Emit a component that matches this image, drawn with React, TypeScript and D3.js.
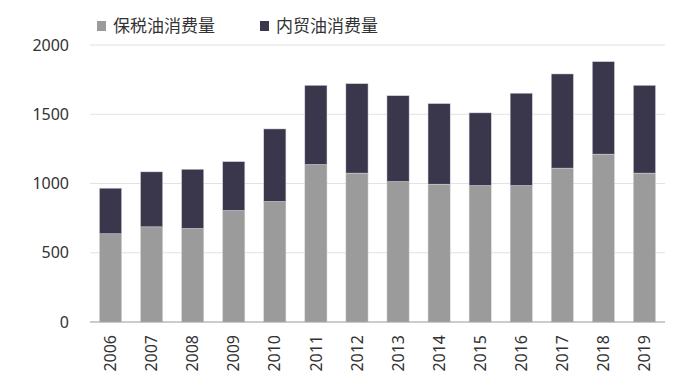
import React, { useRef, useEffect } from 'react';
import * as d3 from 'd3';

const years = ['2006', '2007', '2008', '2009', '2010', '2011', '2012', '2013', '2014', '2015', '2016', '2017', '2018', '2019'];
const bondedOil = [637, 687, 675, 805, 870, 1137, 1075, 1014, 995, 985, 985, 1111, 1212, 1075];
const domesticOil = [329, 397, 428, 353, 524, 572, 646, 620, 582, 525, 667, 680, 668, 634];
const seriesNames = ['保税油消费量', '内贸油消费量'];
const yTicks = [0, 500, 1000, 1500, 2000];

const colors = ['#9a9b9a', '#3a364b'];
const font = '"Noto Sans", "Noto Sans CJK SC", sans-serif';

const App = () => {
  const svgRef = useRef<SVGSVGElement>(null);
  const width = 694;
  const height = 392;

  useEffect(() => {
    const svg = d3.select(svgRef.current);
    svg.selectAll('*').remove();

    const margin = { left: 90, right: 29, top: 45, bottom: 70 };
    const x = d3.scaleBand().domain(years).range([margin.left, width - margin.right]).paddingInner(0.46).paddingOuter(0.23);
    const y = d3.scaleLinear().domain([0, 2000]).range([height - margin.bottom, margin.top]);

    const table = years.map((yr, i) => ({ year: yr, a: bondedOil[i], b: domesticOil[i] }));
    const stacked = d3.stack<any>().keys(['a', 'b'])(table);

    // grid
    svg.append('g')
      .selectAll('line')
      .data(yTicks.filter(t => t > 0))
      .join('line')
      .attr('x1', margin.left)
      .attr('x2', width - margin.right)
      .attr('y1', d => y(d))
      .attr('y2', d => y(d))
      .attr('stroke', '#e2e2e2')
      .attr('stroke-width', 1.2);

    svg.append('g')
      .selectAll('g')
      .data(stacked)
      .join('g')
      .attr('fill', (_, i) => colors[i])
      .selectAll('rect')
      .data(d => d)
      .join('rect')
      .attr('x', d => x(d.data.year)!)
      .attr('width', x.bandwidth())
      .attr('y', d => y(d[1]))
      .attr('height', d => y(d[0]) - y(d[1]))
      .attr('stroke', '#d8d8de')
      .attr('stroke-width', 0.5);

    // baseline
    svg.append('line')
      .attr('x1', margin.left)
      .attr('x2', width - margin.right)
      .attr('y1', y(0))
      .attr('y2', y(0))
      .attr('stroke', '#9a9a9a')
      .attr('stroke-width', 1.2);

    svg.append('g')
      .selectAll('text')
      .data(yTicks)
      .join('text')
      .attr('x', 69)
      .attr('y', d => y(d))
      .attr('dy', '0.35em')
      .attr('text-anchor', 'end')
      .attr('font-family', font)
      .attr('font-size', 16)
      .attr('fill', '#333')
      .text(d => d);

    svg.append('g')
      .selectAll('text')
      .data(years)
      .join('text')
      .attr('transform', d => `translate(${x(d)! + x.bandwidth() / 2},335) rotate(-90)`)
      .attr('dy', '0.35em')
      .attr('text-anchor', 'end')
      .attr('font-family', font)
      .attr('font-size', 16)
      .attr('fill', '#333')
      .text(d => d);

    const legendX = [97, 260];
    const legend = svg.append('g')
      .selectAll('g')
      .data(seriesNames)
      .join('g')
      .attr('transform', (_, i) => `translate(${legendX[i]},21)`);
    legend.append('rect')
      .attr('width', 9)
      .attr('height', 10)
      .attr('fill', (_, i) => colors[i]);
    legend.append('text')
      .attr('x', 16)
      .attr('y', 5)
      .attr('dy', '0.35em')
      .attr('font-family', font)
      .attr('font-size', 17)
      .attr('fill', '#333')
      .text(d => d);
  }, []);

  return <svg ref={svgRef} width={width} height={height} style={{ position: 'absolute', left: 0, top: 0, background: '#fff' }}></svg>;
};

export default App;
